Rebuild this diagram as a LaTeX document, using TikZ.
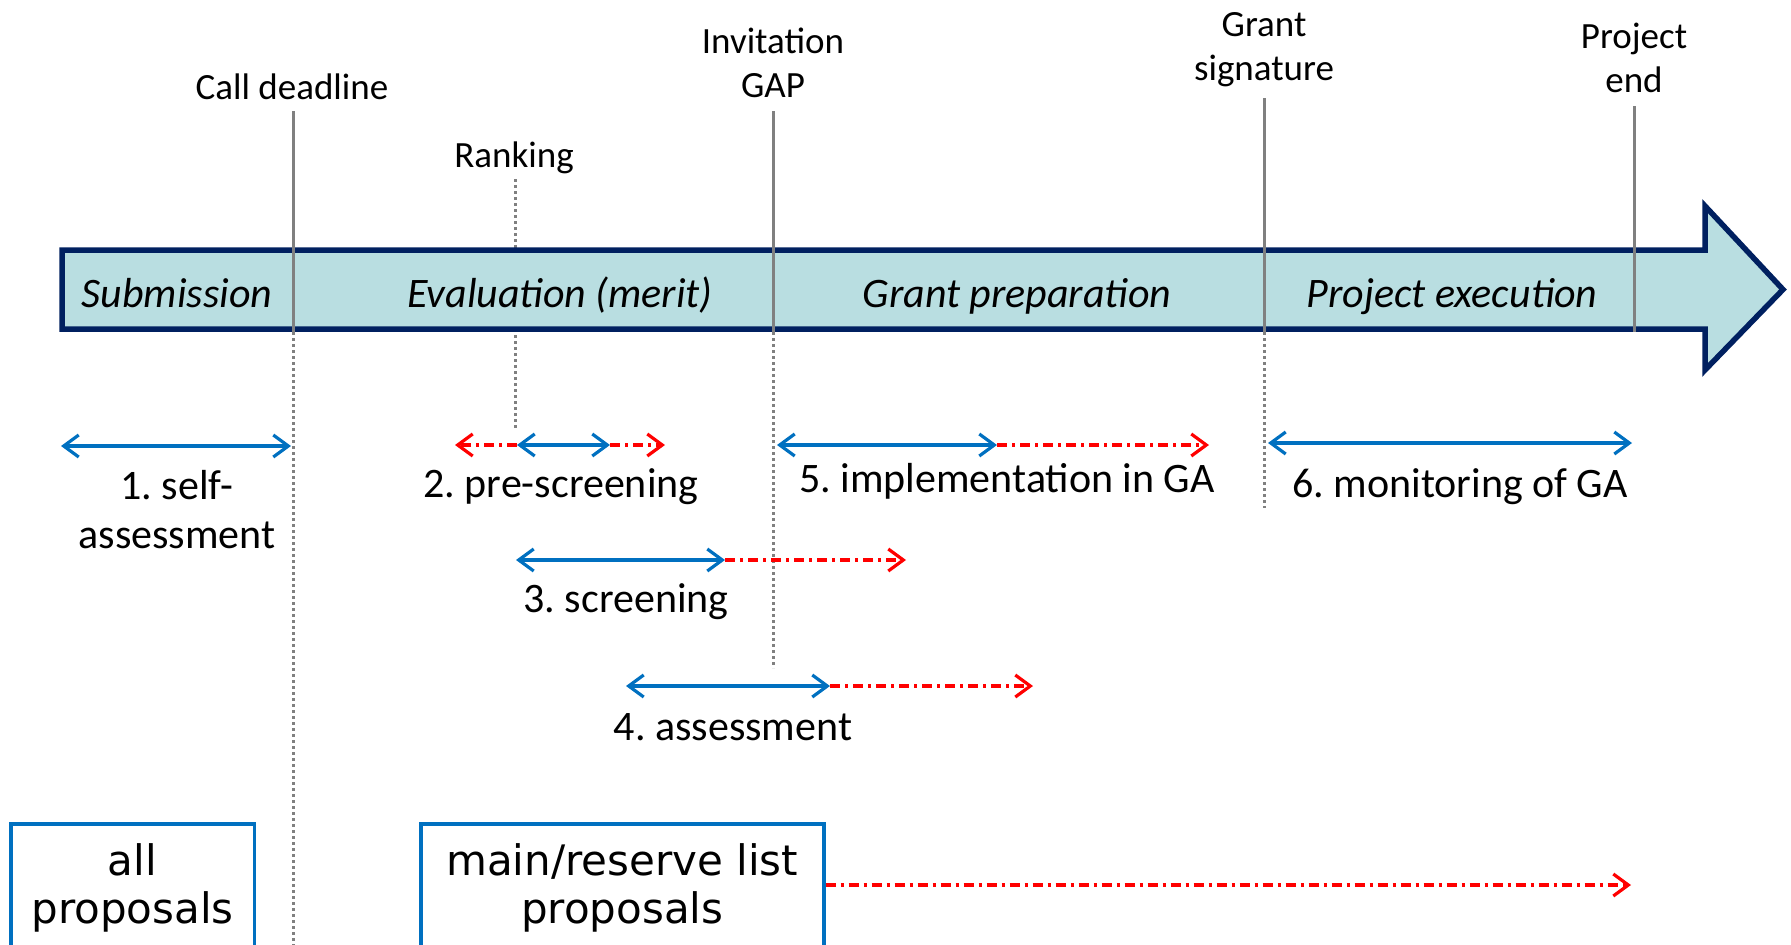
\documentclass[tikz,border=0pt]{standalone}
\usepackage{fontspec}
\setmainfont{Carlito}
\newfontfamily\boxfont{DejaVu Sans}
\usetikzlibrary{arrows.meta}
\definecolor{navy}{HTML}{002060}
\definecolor{bandfill}{HTML}{B9DEE1}
\definecolor{bluea}{HTML}{0070C0}
\definecolor{reda}{HTML}{FF0000}
\definecolor{grayl}{HTML}{808080}
\newcommand\mlines[1]{\begin{tabular}[b]{@{}c@{}}#1\end{tabular}}
\frenchspacing
\begin{document}
\begin{tikzpicture}[x=1pt,y=-1pt,
  toplabel/.style={font=\fontsize{37}{44}\selectfont, anchor=base, inner sep=0pt},
  steplabel/.style={font=\fontsize{42}{49}\selectfont, anchor=base, inner sep=0pt},
  phaselabel/.style={font=\itshape\fontsize{42}{50}\selectfont, anchor=base, inner sep=0pt},
  listbox/.style={draw=bluea, line width=3.5pt, font=\boxfont\fontsize{42}{48}\selectfont, anchor=base, inner xsep=0pt, inner ysep=17.4pt},
  band/.style={draw=navy, fill=bandfill, line width=5.5pt, miter limit=10},
  milestone/.style={draw=grayl, line width=3pt},
  milestonedot/.style={draw=grayl, line width=3pt, dash pattern=on 3pt off 3pt},
  span/.style={draw=bluea, line width=3.2pt, {Straight Barb[length=15pt,width=22pt]}-{Straight Barb[length=15pt,width=22pt]}},
  slack/.style={draw=reda, line width=3.2pt, dash pattern=on 10pt off 5pt on 3pt off 5pt, -{Straight Barb[length=15pt,width=22pt]}},
]
\useasboundingbox (0,0) rectangle (1791,945);
\clip (0,0) rectangle (1791,945);

% milestone labels
\node[toplabel] (calldl) at (292,99) {Call deadline};
\node[toplabel] (ranking) at (514,167) {Ranking};
\node[toplabel] (invgap) at (773,97) {\mlines{Invitation\\GAP}};
\node[toplabel] (grantsig) at (1264,80) {\mlines{Grant\\signature}};
\node[toplabel] (projend) at (1634,92) {\mlines{Project\\end}};

% milestone line coordinates
\coordinate (cdT) at (293.5,111);
\coordinate (cdM) at (293.5,332);
\coordinate (cdB) at (293.5,950);
\coordinate (rkT) at (515,179);
\coordinate (rkB) at (515,430);
\coordinate (igT) at (773,111);
\coordinate (igM) at (773,332);
\coordinate (igB) at (773,668);
\coordinate (gsT) at (1264,98);
\coordinate (gsM) at (1264,332);
\coordinate (gsB) at (1264,508);
\coordinate (peT) at (1634.5,106);
\coordinate (peM) at (1634.5,332);

% ranking dotted line (hidden behind the band)
\draw[milestonedot] (rkT) -- (rkB);

% timeline band
\draw[band] (62,250) -- (1705,250) -- (1705,206) -- (1783,289.5) -- (1705,370) -- (1705,329) -- (62,329) -- cycle;

\node[phaselabel] (subm) at (177,307) {Submission};
\node[phaselabel] (evalm) at (560,307) {Evaluation (merit)};
\node[phaselabel] (grantp) at (1017,307) {Grant preparation};
\node[phaselabel] (projx) at (1452,307) {Project execution};

% milestone lines
\draw[milestone] (cdT) -- (cdM);
\draw[milestonedot] (cdM) -- (cdB);
\draw[milestone] (igT) -- (igM);
\draw[milestonedot] (igM) -- (igB);
\draw[milestone] (gsT) -- (gsM);
\draw[milestonedot] (gsM) -- (gsB);
\draw[milestone] (peT) -- (peM);

% step spans
\coordinate (s1a) at (61,446);   \coordinate (s1b) at (291,446);
\coordinate (p2r0) at (455,445); \coordinate (p2a) at (517,445);
\coordinate (p2b) at (610,445);  \coordinate (p2r1) at (665,445);
\coordinate (i5a) at (777,445);  \coordinate (i5b) at (997,445);
\coordinate (i5r) at (1209,445);
\coordinate (m6a) at (1268,443); \coordinate (m6b) at (1632,443);
\coordinate (sc3a) at (516,560); \coordinate (sc3b) at (725,560);
\coordinate (sc3r) at (906,560);
\coordinate (as4a) at (626,686); \coordinate (as4b) at (830,686);
\coordinate (as4r) at (1033,686);
\coordinate (lend) at (1631,885);

\draw[slack] (p2a) -- (p2r0);
\draw[slack] (p2b) -- (p2r1);
\draw[slack] (i5b) -- (i5r);
\draw[slack] (sc3b) -- (sc3r);
\draw[slack] (as4b) -- (as4r);

\draw[span] (s1a) -- (s1b);
\draw[span] (p2a) -- (p2b);
\draw[span] (i5a) -- (i5b);
\draw[span] (m6a) -- (m6b);
\draw[span] (sc3a) -- (sc3b);
\draw[span] (as4a) -- (as4b);

\node[steplabel] (l1) at (177,548) {\mlines{1. self-\\assessment}};
\node[steplabel] (l2) at (561,497) {2. pre-screening};
\node[steplabel] (l5) at (1007,492) {5. implementation in GA};
\node[steplabel] (l6) at (1460,497) {6. monitoring of GA};
\node[steplabel] (l3) at (626,612) {3. screening};
\node[steplabel] (l4) at (733,740) {4. assessment};

% proposal boxes
\node[listbox, minimum width=243.5pt] (allbox) at (132.5,923) {\mlines{all\\proposals}};
\node[listbox, minimum width=403pt] (mainbox) at (622.25,923) {\mlines{main/reserve list\\proposals}};
\draw[slack] (mainbox.east |- lend) -- (lend);
\end{tikzpicture}
\end{document}
